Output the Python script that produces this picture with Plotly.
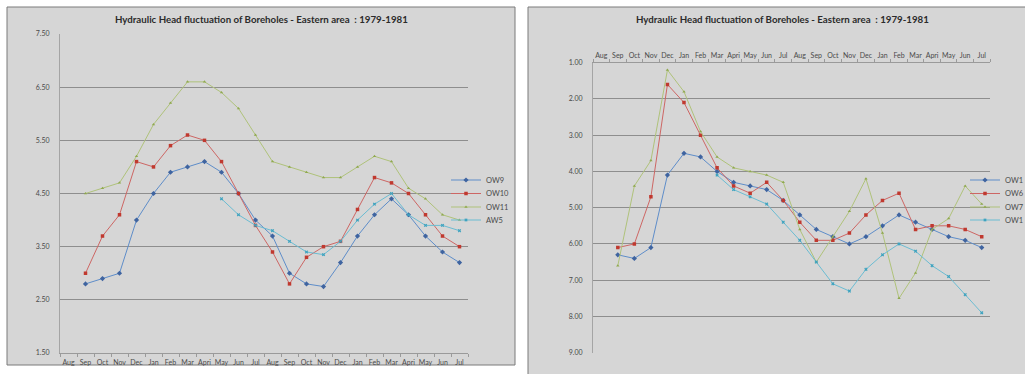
import plotly.graph_objects as go

W, H = 1025, 374

months = ["Aug", "Sep", "Oct", "Nov", "Dec", "Jan", "Feb", "Mar", "Apri", "May", "Jun", "Jul",
          "Aug", "Sep", "Oct", "Nov", "Dec", "Jan", "Feb", "Mar", "Apri", "May", "Jun", "Jul"]
xidx = list(range(len(months)))

title_text = "Hydraulic Head fluctuation of Boreholes - Eastern area  : 1979-1981"

# Left chart
ow9 = [None, 2.8, 2.9, 3.0, 4.0, 4.5, 4.9, 5.0, 5.1, 4.9, 4.5, 4.0, 3.7, 3.0, 2.8, 2.75, 3.2, 3.7, 4.1, 4.4, 4.1, 3.7, 3.4, 3.2]
ow10 = [None, 3.0, 3.7, 4.1, 5.1, 5.0, 5.4, 5.6, 5.5, 5.1, 4.5, 3.9, 3.4, 2.8, 3.3, 3.5, 3.6, 4.2, 4.8, 4.7, 4.5, 4.1, 3.7, 3.5]
ow11 = [None, 4.5, 4.6, 4.7, 5.2, 5.8, 6.2, 6.6, 6.6, 6.4, 6.1, 5.6, 5.1, 5.0, 4.9, 4.8, 4.8, 5.0, 5.2, 5.1, 4.6, 4.4, 4.1, 4.0]
aw5 = [None] * 9 + [4.4, 4.1, 3.9, 3.8, 3.6, 3.4, 3.35, 3.6, 4.0, 4.3, 4.5, 4.1, 3.9, 3.9, 3.8]

# Right chart (reversed axis); legend names as visible in the (clipped) reference
right_names = ["OW1", "OW6", "OW7", "OW1"]
ow1 = [None, 6.3, 6.4, 6.1, 4.1, 3.5, 3.6, 4.0, 4.3, 4.4, 4.5, 4.8, 5.2, 5.6, 5.8, 6.0, 5.8, 5.5, 5.2, 5.4, 5.6, 5.8, 5.9, 6.1]
ow6 = [None, 6.1, 6.0, 4.7, 1.6, 2.1, 3.0, 3.9, 4.4, 4.6, 4.3, 4.8, 5.4, 5.9, 5.9, 5.7, 5.2, 4.8, 4.6, 5.6, 5.5, 5.5, 5.6, 5.8]
ow7 = [None, 6.6, 4.4, 3.7, 1.2, 1.8, 2.9, 3.6, 3.9, 4.0, 4.1, 4.3, 5.6, 6.5, 5.8, 5.1, 4.2, 5.7, 7.5, 6.8, 5.6, 5.3, 4.4, 4.9]
ow1b = [None] * 7 + [4.1, 4.5, 4.7, 4.9, 5.4, 5.9, 6.5, 7.1, 7.3, 6.7, 6.3, 6.0, 6.2, 6.6, 6.9, 7.4, 7.9]

left_ticks = [7.5, 6.5, 5.5, 4.5, 3.5, 2.5, 1.5]
right_ticks = [1, 2, 3, 4, 5, 6, 7, 8, 9]

BLUE, BLUE_M = "#5E8DC9", "#3F64A0"
RED, RED_M = "#CD6664", "#C0392F"
GREEN, GREEN_M = "#AFC27A", "#8FA84E"
CYAN, CYAN_M = "#6BBCD2", "#3FA3BF"
BG = "#D6D6D6"
GRID = "#8E8E8E"
TXT = "#4A4A4A"


def px(x):
    return x / W


def py(y):
    return 1 - y / H


fig = go.Figure()


def add(x, y, name, color, mcolor, symbol, size, xa, ya, legend):
    fig.add_trace(go.Scatter(
        x=x, y=y, name=name, mode="lines+markers",
        line=dict(color=color, width=1),
        marker=dict(color=mcolor, symbol=symbol, size=size),
        xaxis=xa, yaxis=ya, legend=legend, connectgaps=False))


add(xidx, ow9, "OW9", BLUE, BLUE_M, "diamond", 4, "x", "y", "legend")
add(xidx, ow10, "OW10", RED, RED_M, "square", 3.5, "x", "y", "legend2")
add(xidx, ow11, "OW11", GREEN, GREEN_M, "triangle-up", 3, "x", "y", "legend3")
add(xidx, aw5, "AW5", CYAN, CYAN_M, "x", 3, "x", "y", "legend4")

add(xidx, ow1, right_names[0], BLUE, BLUE_M, "diamond", 4, "x2", "y2", "legend5")
add(xidx, ow6, right_names[1], RED, RED_M, "square", 3.5, "x2", "y2", "legend6")
add(xidx, ow7, right_names[2], GREEN, GREEN_M, "triangle-up", 3, "x2", "y2", "legend7")
add(xidx, ow1b, right_names[3], CYAN, CYAN_M, "x", 3, "x2", "y2", "legend8")

tickfont = dict(family="Lato, DejaVu Sans, sans-serif", size=7, color=TXT)

xcommon = dict(
    tickmode="array", tickvals=xidx, ticktext=months, range=[-0.5, 23.5],
    showgrid=False, zeroline=False, showline=True, linecolor="#9A9A9A", linewidth=1,
    ticks="", tickfont=tickfont, fixedrange=True,
    minor=dict(tick0=-0.5, dtick=1, ticks="outside", ticklen=3, tickcolor="#9A9A9A", showgrid=False),
)
ycommon = dict(
    showgrid=True, gridcolor=GRID, gridwidth=1, zeroline=False,
    showline=True, linecolor="#A5A5A5", linewidth=1, ticks="",
    tickformat=".2f", tickfont=tickfont, fixedrange=True,
)

legfont = dict(family="Lato, sans-serif", size=7.5, color=TXT)


def leg(xpix, ypix):
    return dict(x=px(xpix), y=py(ypix), xanchor="left", yanchor="middle",
                bgcolor="rgba(0,0,0,0)", font=legfont, itemwidth=30,
                borderwidth=0)


leg_y = [180, 193.5, 207, 220]

fig.update_layout(
    width=W, height=H, margin=dict(l=0, r=0, t=0, b=0, autoexpand=False),
    paper_bgcolor="white", plot_bgcolor=BG, showlegend=True,
    xaxis=dict(xcommon, domain=[px(60), px(468)], anchor="y", side="bottom", ticklabelstandoff=3),
    yaxis=dict(ycommon, domain=[py(353), py(34)], anchor="x", range=[1.5, 7.5],
               tickmode="array", tickvals=left_ticks, ticklabelstandoff=8),
    xaxis2=dict(xcommon, domain=[px(593), px(990)], anchor="y2", side="top", ticklabelstandoff=1),
    yaxis2=dict(ycommon, domain=[py(352.7), py(62.7)], anchor="x2", range=[9, 1],
                tickmode="array", tickvals=right_ticks, ticklabelstandoff=8),
    legend=leg(446, leg_y[0]),
    legend2=leg(446, leg_y[1]),
    legend3=leg(446, leg_y[2]),
    legend4=leg(446, leg_y[3]),
    legend5=leg(965, leg_y[0]),
    legend6=leg(965, leg_y[1]),
    legend7=leg(965, leg_y[2]),
    legend8=leg(965, leg_y[3]),
    shapes=[
        dict(type="rect", xref="paper", yref="paper", x0=px(7), x1=px(515), y0=py(365), y1=py(7),
             fillcolor=BG, line=dict(color="#7A7A7A", width=1), layer="below"),
        dict(type="rect", xref="paper", yref="paper", x0=px(528), x1=px(1030), y0=py(380), y1=py(7),
             fillcolor=BG, line=dict(color="#7A7A7A", width=1), layer="below"),
    ],
    annotations=[
        dict(text="<b>" + title_text + "</b>", xref="paper", yref="paper", x=px(261), y=py(19),
             xanchor="center", yanchor="middle", showarrow=False,
             font=dict(family="Lato, sans-serif", size=9.7, color="#2B2B2B")),
        dict(text="<b>" + title_text + "</b>", xref="paper", yref="paper", x=px(782), y=py(19),
             xanchor="center", yanchor="middle", showarrow=False,
             font=dict(family="Lato, sans-serif", size=9.7, color="#2B2B2B")),
    ],
)

fig.write_html("out.html", config={"displayModeBar": False},
               post_script="document.body.style.margin='0';document.body.style.overflow='hidden';")
